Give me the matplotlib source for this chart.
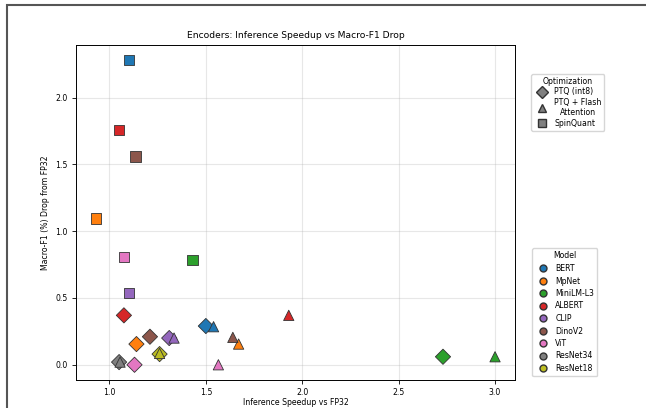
import matplotlib
matplotlib.use('Agg')
import matplotlib.pyplot as plt
from matplotlib.lines import Line2D
from matplotlib.patches import Rectangle

models = ['BERT', 'MpNet', 'MiniLM-L3', 'ALBERT', 'CLIP', 'DinoV2', 'ViT',
          'ResNet34', 'ResNet18']
colors = ['tab:blue', 'tab:orange', 'tab:green', 'tab:red', 'tab:purple',
          'tab:brown', 'tab:pink', 'tab:gray', 'tab:olive']

# PTQ (int8)
ptq_speed = [1.50, 1.14, 2.73, 1.075, 1.31, 1.21, 1.13, 1.05, 1.26]
ptq_drop = [0.29, 0.155, 0.06, 0.37, 0.20, 0.21, 0.00, 0.02, 0.08]

# PTQ + Flash Attention
flash_speed = [1.54, 1.67, 3.00, 1.93, 1.335, 1.64, 1.565, 1.055, 1.26]
flash_drop = [0.285, 0.155, 0.06, 0.37, 0.20, 0.205, 0.00, 0.02, 0.085]

# SpinQuant (no ResNets)
spin_models = ['BERT', 'MpNet', 'MiniLM-L3', 'ALBERT', 'CLIP', 'DinoV2', 'ViT']
spin_speed = [1.10, 0.93, 1.43, 1.05, 1.10, 1.135, 1.075]
spin_drop = [2.28, 1.095, 0.785, 1.76, 0.535, 1.56, 0.805]

opt_labels = ['PTQ (int8)', 'PTQ + Flash\nAttention', 'SpinQuant']
opt_markers = ['D', '^', 's']

fig = plt.figure(figsize=(6.46, 4.08), dpi=100)
ax = fig.add_axes([76 / 646, 28 / 408, 439 / 646, 335 / 408])

cmap = dict(zip(models, colors))
ax.scatter(ptq_speed, ptq_drop, c=colors, marker='D', s=60,
           edgecolors='#333333', linewidths=0.6, zorder=3)
ax.scatter(flash_speed, flash_drop, c=colors, marker='^', s=55,
           edgecolors='#333333', linewidths=0.6, zorder=3)
ax.scatter(spin_speed, spin_drop, c=[cmap[m] for m in spin_models], marker='s',
           s=55, edgecolors='#333333', linewidths=0.6, zorder=3)

ax.set_title('Encoders: Inference Speedup vs Macro-F1 Drop', fontsize=6.6,
             pad=5)
ax.set_xlabel('Inference Speedup vs FP32', fontsize=5.6, labelpad=0.5)
ax.set_ylabel('Macro-F1 (%) Drop from FP32', fontsize=5.6, labelpad=4)
ax.tick_params(labelsize=5.6, length=3, width=0.6, pad=3)
ax.grid(True, alpha=0.3)
for sp in ax.spines.values():
    sp.set_linewidth(0.7)

opt_handles = [Line2D([], [], marker=m, color='none', markerfacecolor='gray',
                      markeredgecolor='#333333', markersize=6, label=l)
               for m, l in zip(opt_markers, opt_labels)]
leg1 = ax.legend(handles=opt_handles, title='Optimization', fontsize=5.6,
                 title_fontsize=5.6, loc='upper left',
                 bbox_to_anchor=(1.028, 0.925), frameon=True,
                 handletextpad=0.6, labelspacing=0.2, borderpad=0.35)
for t in leg1.get_texts():
    t.set_multialignment('center')
ax.add_artist(leg1)

model_handles = [Line2D([], [], marker='o', color='none', markerfacecolor=c,
                        markeredgecolor='#333333', markersize=5, label=m)
                 for m, c in zip(models, colors)]
ax.legend(handles=model_handles, title='Model', fontsize=5.6,
          title_fontsize=5.6, loc='lower left', bbox_to_anchor=(1.03, 0.0),
          frameon=True, handletextpad=0.6, labelspacing=0.45)

# outer frame (cropped)
fig.patches.append(Rectangle((7 / 646, -0.1), 1.2, (408 - 5) / 408 + 0.1,
                             transform=fig.transFigure, fill=False,
                             edgecolor='#555555', linewidth=1.5,
                             clip_on=False))

fig.savefig('out.png', dpi=100)
